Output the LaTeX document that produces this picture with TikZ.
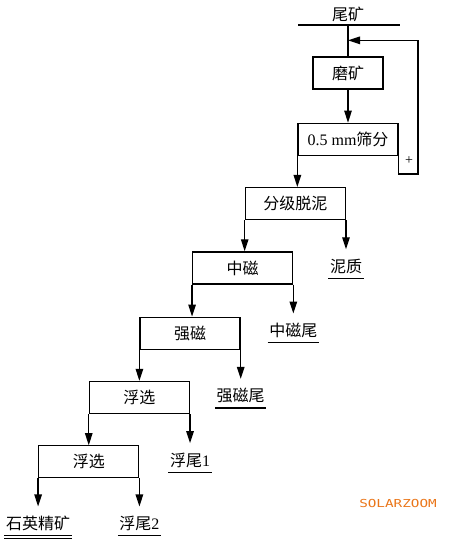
\documentclass[tikz,border=0pt]{standalone}
\usepackage{fontspec}
\setmainfont{Liberation Serif}
\newfontfamily\cjk{Noto Sans CJK SC}
\newfontfamily\wmfont{DejaVu Sans Mono}[FakeStretch=1.3]
\newcommand{\lat}[1]{{\rmfamily #1}}
\usetikzlibrary{positioning, arrows.meta}
\definecolor{wmorange}{RGB}{234,118,26}
\tikzset{
    procbox/.style={
        draw, rectangle, line width=1.3pt, minimum width=100pt, minimum height=32pt,
        inner sep=2pt, font=\cjk\fontsize{16}{18}\selectfont
    },
    product/.style={inner xsep=1pt, inner ysep=9pt, font=\cjk\fontsize{16}{18}\selectfont},
    flow/.style={-{Triangle[length=12pt, width=7.5pt]}, line width=1.3pt},
    feedbar/.style={line width=2.8pt}
}

\begin{document}
\begin{tikzpicture}[x=1pt, y=1pt, line width=1.3pt]
    \useasboundingbox (0,0) rectangle (460,-539);

    % feed
    \coordinate (bar) at (348,-25);
    \node[product, inner ysep=1pt, above=2pt of bar] (weikuang) {尾矿};
    \draw[feedbar] ([xshift=-50pt]bar) -- ([xshift=52pt]bar);

    % process boxes
    \node[procbox, minimum width=70pt] (mokuang) at (348,-73) {磨矿};
    \node[procbox, below=33pt of mokuang] (shaifen) {\lat{0.5 mm}筛分};
    \node[procbox, below=31pt of shaifen.south west, xshift=-2pt] (fenji) {分级脱泥};
    \node[procbox, below=31pt of fenji.south west, xshift=-2pt] (zhongci) {中磁};
    \node[procbox, below=32pt of zhongci.south west, xshift=-2pt] (qiangci) {强磁};
    \node[procbox, below=31pt of qiangci.south west] (fuxuan1) {浮选};
    \node[procbox, below=31pt of fuxuan1.south west] (fuxuan2) {浮选};

    % products
    \node[product, below=29pt of fenji.south east] (nizhi) {泥质};
    \node[product, below=29pt of zhongci.south east] (zcwei) {中磁尾};
    \node[product, below=29pt of qiangci.south east] (qcwei) {强磁尾};
    \node[product, below=29pt of fuxuan1.south east] (fuwei1) {浮尾\lat{1}};
    \node[product, below=28pt of fuxuan2.south east] (fuwei2) {浮尾\lat{2}};
    \node[product, below=28pt of fuxuan2.south west] (jingkuang) {石英精矿};

    % recycle
    \coordinate[above=16pt of mokuang.north] (join);
    \node[font=\fontsize{14}{16}\selectfont] (plus) at (409,-161) {+};

    \draw (bar) -- (mokuang.north);
    \draw[flow] (mokuang) -- (shaifen);
    \draw[flow] (shaifen.south east) -- ++(0,-18pt) -| ([xshift=70pt]join) -- (join);
    \draw[flow] (shaifen.south west) -- (shaifen.south west |- fenji.north);
    \draw[flow] (fenji.south west) -- (fenji.south west |- zhongci.north);
    \draw[flow] (zhongci.south west) -- (zhongci.south west |- qiangci.north);
    \draw[flow] (qiangci.south west) -- (qiangci.south west |- fuxuan1.north);
    \draw[flow] (fuxuan1.south west) -- (fuxuan2.north);
    \draw[flow] (fenji.south east) -- (nizhi.north);
    \draw[flow] (zhongci.south east) -- (zcwei.north);
    \draw[flow] (qiangci.south east) -- (qcwei.north);
    \draw[flow] (fuxuan1.south east) -- (fuwei1.north);
    \draw[flow] (fuxuan2.south east) -- (fuwei2.north);
    \draw[flow] (fuxuan2.south west) -- (jingkuang.north);

    % underlines
    \foreach \n in {nizhi, zcwei, qcwei, fuwei1, fuwei2, jingkuang}
        \draw ([yshift=5pt]\n.south west) -- ([yshift=5pt]\n.south east);
    \draw ([yshift=2pt]jingkuang.south west) -- ([yshift=2pt]jingkuang.south east);

    \node[font=\wmfont\fontsize{11}{13}\selectfont, text=wmorange] (logo) at (398,-503) {SOLARZOOM};
\end{tikzpicture}
\end{document}
